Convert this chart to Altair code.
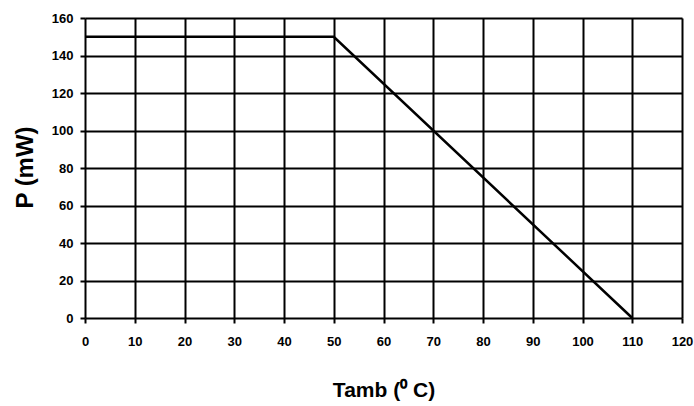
import altair as alt
import pandas as pd

temps = [0, 50, 110]
power = [150, 150, 0]
x_ticks = [0, 10, 20, 30, 40, 50, 60, 70, 80, 90, 100, 110, 120]
y_ticks = [0, 20, 40, 60, 80, 100, 120, 140, 160]

df = pd.DataFrame({"Tamb": temps, "P": power})

FONT = "Liberation Sans"

chart = alt.Chart(df).mark_line(color="black", strokeWidth=2.5).encode(
    x=alt.X("Tamb:Q",
            scale=alt.Scale(domain=[0, 120], nice=False),
            axis=alt.Axis(values=x_ticks, title="Tamb (⁰ C)", labelFlush=False,
                          grid=True, gridColor="black", gridWidth=2, gridOpacity=1,
                          domain=False, tickColor="black", tickWidth=2, tickSize=5,
                          labelFont=FONT, labelFontSize=13, labelFontWeight="bold",
                          labelColor="black", labelPadding=12,
                          titleFont=FONT, titleFontSize=21, titleFontWeight="bold",
                          titleColor="black", titleY=78, titleBaseline="alphabetic")),
    y=alt.Y("P:Q",
            scale=alt.Scale(domain=[0, 160], nice=False),
            axis=alt.Axis(values=y_ticks, title="P (mW)",
                          grid=True, gridColor="black", gridWidth=2, gridOpacity=1,
                          domain=False, tickColor="black", tickWidth=2, tickSize=5,
                          labelFont=FONT, labelFontSize=13, labelFontWeight="bold",
                          labelColor="black", labelPadding=7,
                          titleFont=FONT, titleFontSize=24, titleFontWeight="bold",
                          titleColor="black", titleX=-53, titleY=149,
                          titleAngle=-90, titleAlign="center",
                          titleBaseline="alphabetic")),
).properties(
    width=597, height=300,
    autosize=alt.AutoSizeParams(type="none"),
    padding={"left": 85, "top": 18, "right": 12, "bottom": 88},
).configure_view(
    stroke="black", strokeWidth=2
).configure(background="white")

chart.save("out.html", embed_options={"renderer": "svg", "actions": False})
